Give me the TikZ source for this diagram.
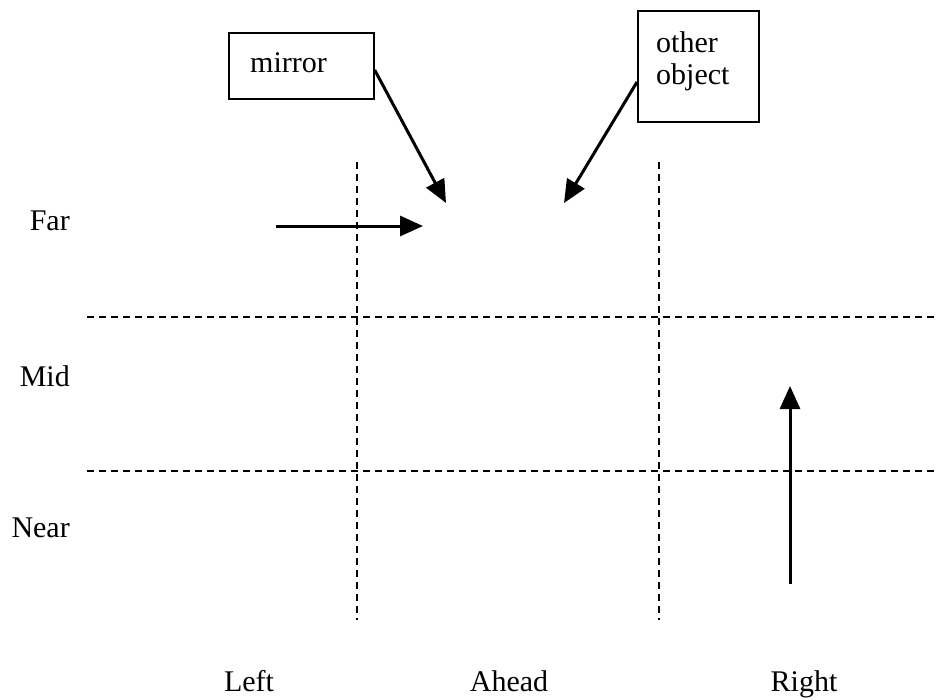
\documentclass[tikz,border=0pt]{standalone}
\usepackage{fontspec}
\setmainfont{Liberation Serif}
\usetikzlibrary{arrows.meta}
\begin{document}
\begin{tikzpicture}[x=1pt,y=-1pt,
  lbl/.style={font=\fontsize{30}{35}\selectfont, inner sep=0pt},
  rowlbl/.style={lbl, anchor=base east},
  collbl/.style={lbl, anchor=base},
  tagbox/.style={draw, line width=1.7pt, anchor=north west, inner sep=0pt},
  gridline/.style={line width=1.4pt, dash pattern=on 7pt off 5pt},
  pointer/.style={line width=3pt, -{Triangle[length=23pt,width=20pt]}}]
\useasboundingbox (0,0) rectangle (939,699);

% grid of the field of view
\draw[gridline] (357,162) -- (357,620);
\draw[gridline] (659,162) -- (659,620);
\draw[gridline] (87,317) -- (939,317);
\draw[gridline] (87,471) -- (939,471);

% row and column labels
\node[rowlbl] (far) at (70,230) {Far};
\node[rowlbl] (mid) at (70,386) {Mid};
\node[rowlbl] (near) at (70,537) {Near};
\node[collbl] (left) at (249,691) {Left};
\node[collbl] (ahead) at (509,691) {Ahead};
\node[collbl] (right) at (804,691) {Right};

% labelled boxes
\node[tagbox, minimum width=145pt, minimum height=66pt] (mirror) at (228,32) {};
\node[lbl, anchor=base west] (mirrortxt) at (250,72) {mirror};
\node[tagbox, minimum width=121pt, minimum height=111pt] (other) at (637,10) {};
\node[lbl, anchor=base west] (othertxt1) at (656,52) {other};
\node[lbl, anchor=base west] (othertxt2) at (656,84) {object};

% arrow end points
\coordinate (mtip) at (446,203);
\coordinate (otip) at (564,203);
\coordinate (fstart) at (276,226);
\coordinate (ftip) at (423,226);
\coordinate (rstart) at (790,584);
\coordinate (rtip) at (790,386);

\draw[pointer] (mirror.north east |- 0,70) -- (mtip);
\draw[pointer] (other.north west |- 0,82) -- (otip);
\draw[pointer] (fstart) -- (ftip);
\draw[pointer] (rstart) -- (rtip);
\end{tikzpicture}
\end{document}
